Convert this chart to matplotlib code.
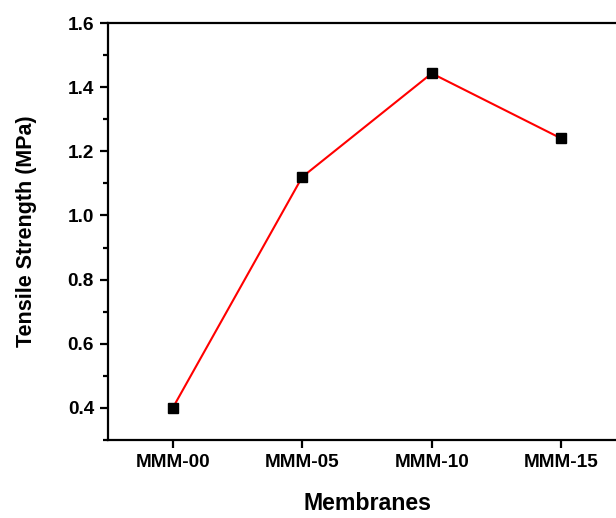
import matplotlib
matplotlib.use("Agg")
import matplotlib.pyplot as plt
from matplotlib.ticker import MultipleLocator

categories = ["MMM-00", "MMM-05", "MMM-10", "MMM-15"]
tensile = [0.40, 1.12, 1.443, 1.24]
yticks = [0.4, 0.6, 0.8, 1.0, 1.2, 1.4, 1.6]

plt.rcParams['font.family'] = ['Liberation Sans', 'DejaVu Sans']
plt.rcParams['font.weight'] = 'bold'

fig = plt.figure(figsize=(6.16, 5.18), dpi=100)
ax = fig.add_axes([108/616, 1-440/518, (626-108)/616, (440-23)/518])

x = list(range(len(categories)))
ax.plot(x, tensile, color='#ff0000', lw=1.5, marker='s', markersize=7.2,
        markerfacecolor='black', markeredgecolor='black', zorder=3)

ax.set_xlim(-0.5, 3.5)
ax.set_ylim(0.3, 1.6)
ax.set_xticks(x)
ax.set_xticklabels(categories)
ax.set_yticks(yticks)
ax.set_yticklabels([f"{v:.1f}" for v in yticks])
ax.yaxis.set_minor_locator(MultipleLocator(0.1))

for s in ax.spines.values():
    s.set_linewidth(1.6)
ax.tick_params(axis='both', which='major', direction='out', length=6, width=1.6,
               labelsize=13.7, pad=4)
ax.tick_params(axis='y', which='minor', direction='out', length=3.5, width=1.6)
ax.tick_params(axis='x', which='minor', bottom=False)
for lab in ax.get_xticklabels() + ax.get_yticklabels():
    lab.set_fontweight('bold')

ax.set_xlabel("Membranes", fontsize=16.7, fontweight='bold', labelpad=15.5)
ax.set_ylabel("Tensile Strength (MPa)", fontsize=15.5, fontweight='bold', labelpad=22)

fig.savefig("out.png", dpi=100)
